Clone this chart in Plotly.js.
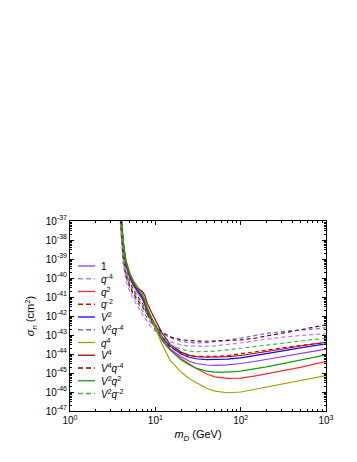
<!DOCTYPE html>
<html>
<head>
<meta charset="utf-8">
<script src="https://cdn.plot.ly/plotly-3.0.1.min.js"></script>
<style>
  html, body { margin: 0; padding: 0; background: #fff; }
  #chart { width: 357px; height: 462px; }
</style>
</head>
<body>
<div id="chart"></div>
<script>
// Dark matter mass (GeV)
const mass = [3.8, 3.9, 4.0, 4.2, 4.5, 5.0, 5.5, 6.0, 6.5, 7.0, 7.5, 8.0, 9.0, 10, 12, 15, 20, 25, 30, 40, 50, 70, 100, 150, 200, 300, 500, 700, 1000];

// log10 of cross section limit (cm^2)
const logSigOne    = [-35.8,-36.6,-37.3,-38.3,-39.3,-40.0,-40.4,-40.7,-40.9,-41.1,-41.4,-41.8,-42.2,-42.6,-43.2,-43.75,-44.15,-44.38,-44.5,-44.58,-44.6,-44.57,-44.5,-44.38,-44.28,-44.15,-43.97,-43.85,-43.74];
const logSigQm4    = [-36.5,-37.3,-38.1,-39.2,-40.1,-40.7,-41.1,-41.4,-41.7,-41.9,-42.1,-42.3,-42.6,-42.8,-43.1,-43.35,-43.52,-43.58,-43.6,-43.6,-43.57,-43.5,-43.42,-43.3,-43.22,-43.12,-43.03,-42.98,-42.93];
const logSigQ2     = [-35.7,-36.5,-37.2,-38.2,-39.2,-39.9,-40.3,-40.6,-40.8,-41.0,-41.3,-41.7,-42.2,-42.6,-43.3,-43.8,-44.25,-44.55,-44.75,-45.05,-45.2,-45.28,-45.27,-45.15,-45.05,-44.9,-44.7,-44.55,-44.4];
const logSigQm2    = [-36.0,-36.8,-37.5,-38.5,-39.5,-40.2,-40.6,-40.9,-41.1,-41.3,-41.6,-41.9,-42.3,-42.7,-43.2,-43.65,-43.95,-44.08,-44.13,-44.15,-44.13,-44.08,-44.0,-43.88,-43.8,-43.68,-43.55,-43.47,-43.4];
const logSigV2     = [-35.7,-36.5,-37.2,-38.2,-39.2,-39.9,-40.3,-40.6,-40.8,-41.0,-41.3,-41.7,-42.1,-42.5,-43.1,-43.6,-44.0,-44.17,-44.25,-44.3,-44.3,-44.27,-44.2,-44.08,-43.98,-43.85,-43.68,-43.57,-43.47];
const logSigV2Qm4  = [-36.3,-37.1,-37.9,-39.0,-39.9,-40.5,-40.9,-41.2,-41.5,-41.7,-41.9,-42.1,-42.4,-42.6,-42.9,-43.15,-43.33,-43.4,-43.42,-43.4,-43.36,-43.27,-43.16,-43.02,-42.92,-42.82,-42.74,-42.69,-42.63];
const logSigQ4     = [-35.5,-36.3,-37.0,-38.0,-39.0,-39.7,-40.1,-40.4,-40.6,-40.8,-41.1,-41.5,-42.1,-42.6,-43.5,-44.35,-44.95,-45.3,-45.5,-45.8,-45.95,-46.04,-46.0,-45.85,-45.75,-45.62,-45.42,-45.28,-45.14];
const logSigV4     = [-35.6,-36.4,-37.1,-38.1,-39.1,-39.8,-40.2,-40.5,-40.6,-40.7,-40.9,-41.3,-41.8,-42.2,-42.9,-43.5,-43.9,-44.07,-44.14,-44.17,-44.17,-44.14,-44.08,-43.97,-43.88,-43.75,-43.58,-43.48,-43.38];
const logSigV4Qm4  = [-36.2,-37.0,-37.8,-38.9,-39.8,-40.4,-40.8,-41.1,-41.3,-41.5,-41.7,-41.9,-42.2,-42.5,-42.85,-43.1,-43.25,-43.3,-43.32,-43.33,-43.32,-43.3,-43.26,-43.16,-43.06,-42.92,-42.73,-42.6,-42.47];
const logSigV2Q2   = [-35.6,-36.4,-37.1,-38.1,-39.1,-39.8,-40.2,-40.5,-40.7,-40.9,-41.2,-41.6,-42.1,-42.5,-43.2,-43.8,-44.3,-44.58,-44.74,-44.9,-44.95,-44.95,-44.9,-44.78,-44.68,-44.52,-44.32,-44.18,-44.05];
const logSigV2Qm2  = [-36.1,-36.9,-37.6,-38.6,-39.6,-40.3,-40.7,-41.0,-41.2,-41.4,-41.6,-41.9,-42.3,-42.6,-43.1,-43.5,-43.75,-43.85,-43.88,-43.88,-43.85,-43.78,-43.7,-43.6,-43.52,-43.42,-43.3,-43.23,-43.16];

const seriesNames = ['1', '<i>q</i><sup>-4</sup>', '<i>q</i><sup>2</sup>', '<i>q</i><sup>-2</sup>', '<i>V</i><sup>2</sup>',
  '<i>V</i><sup>2</sup><i>q</i><sup>-4</sup>', '<i>q</i><sup>4</sup>', '<i>V</i><sup>4</sup>',
  '<i>V</i><sup>4</sup><i>q</i><sup>-4</sup>', '<i>V</i><sup>2</sup><i>q</i><sup>2</sup>', '<i>V</i><sup>2</sup><i>q</i><sup>-2</sup>'];
const seriesData = [logSigOne, logSigQm4, logSigQ2, logSigQm2, logSigV2, logSigV2Qm4, logSigQ4, logSigV4, logSigV4Qm4, logSigV2Q2, logSigV2Qm2];
const seriesColors = ['#9a30ff', '#c078ff', '#ff2a2a', '#e00000', '#0a0aff', '#6a6aff', '#a3a300', '#b80000', '#800000', '#10a010', '#40b840'];
const seriesDash = ['solid', 'dash', 'solid', 'dash', 'solid', 'dash', 'solid', 'solid', 'dash', 'solid', 'dash'];

const yTickVals = [-47, -46, -45, -44, -43, -42, -41, -40, -39, -38, -37];
const xTickVals = [1, 10, 100, 1000];
const xTickText = ['10<sup>0</sup>', '10<sup>1</sup>', '10<sup>2</sup>', '10<sup>3</sup>'];

const font = 'Liberation Sans, Arial, sans-serif';
const dashPattern = '4px,3px';

const traces = seriesData.map((vals, i) => ({
    x: mass,
    y: vals.map(v => Math.pow(10, v)),
    type: 'scatter',
    mode: 'lines',
    name: seriesNames[i],
    showlegend: false,
    line: {
        color: seriesColors[i],
        width: 1.2,
        dash: seriesDash[i] === 'dash' ? dashPattern : 'solid'
    },
    hoverinfo: 'skip'
}));

// Legend drawn by hand so the rows can sit tighter than plotly allows
const legTop = 266, legStep = 12.75, plotTop = 221, plotBottom = 411, plotLeft = 70, plotW = 256;
const toPaperY = px => (plotBottom - px) / (plotBottom - plotTop);
const toPaperX = px => (px - plotLeft) / plotW;

const shapes = [];
const annotations = [];
seriesNames.forEach((name, i) => {
    const yy = toPaperY(legTop + i * legStep);
    shapes.push({
        type: 'line', xref: 'paper', yref: 'paper',
        x0: toPaperX(78), x1: toPaperX(95), y0: yy, y1: yy,
        line: { color: seriesColors[i], width: 1.3, dash: seriesDash[i] === 'dash' ? '5px,3px' : 'solid' }
    });
    annotations.push({
        xref: 'paper', yref: 'paper', x: toPaperX(99), y: yy,
        xanchor: 'left', yanchor: 'middle', showarrow: false,
        text: name, font: { family: font, size: 10, color: '#000' }
    });
});

const layout = {
    width: 357,
    height: 462,
    margin: { l: 70, r: 31, t: 221, b: 51 },
    paper_bgcolor: '#fff',
    plot_bgcolor: '#fff',
    font: { family: font, size: 10, color: '#000' },
    showlegend: false,
    xaxis: {
        type: 'log',
        range: [0, 3],
        tickmode: 'array',
        tickvals: xTickVals,
        ticktext: xTickText,
        ticks: 'inside',
        ticklen: 4,
        tickcolor: '#000',
        showline: true,
        linecolor: '#000',
        linewidth: 1,
        mirror: 'allticks',
        showgrid: false,
        zeroline: false,
        tickfont: { family: font, size: 10 },
        minor: { dtick: 'D1', ticks: 'inside', ticklen: 2, tickcolor: '#000', showgrid: false },
        title: { text: '<i>m</i><sub><i>D</i></sub> (GeV)', font: { family: font, size: 11 }, standoff: 5 }
    },
    yaxis: {
        type: 'log',
        range: [-47, -37],
        tickmode: 'array',
        tickvals: yTickVals.map(v => Math.pow(10, v)),
        ticktext: yTickVals.map(v => '10<sup>' + v + '</sup>'),
        ticks: 'inside',
        ticklen: 4,
        tickcolor: '#000',
        showline: true,
        linecolor: '#000',
        linewidth: 1,
        mirror: 'allticks',
        showgrid: false,
        zeroline: false,
        tickfont: { family: font, size: 10 },
        minor: { dtick: 'D1', ticks: 'inside', ticklen: 2, tickcolor: '#000', showgrid: false },
        title: { text: '<i>σ</i><sub><i>n</i></sub> (cm<sup>2</sup>)', font: { family: font, size: 11 }, standoff: 8 }
    },
    shapes: shapes,
    annotations: annotations
};

Plotly.newPlot('chart', traces, layout, { displayModeBar: false, staticPlot: true });
</script>
</body>
</html>
